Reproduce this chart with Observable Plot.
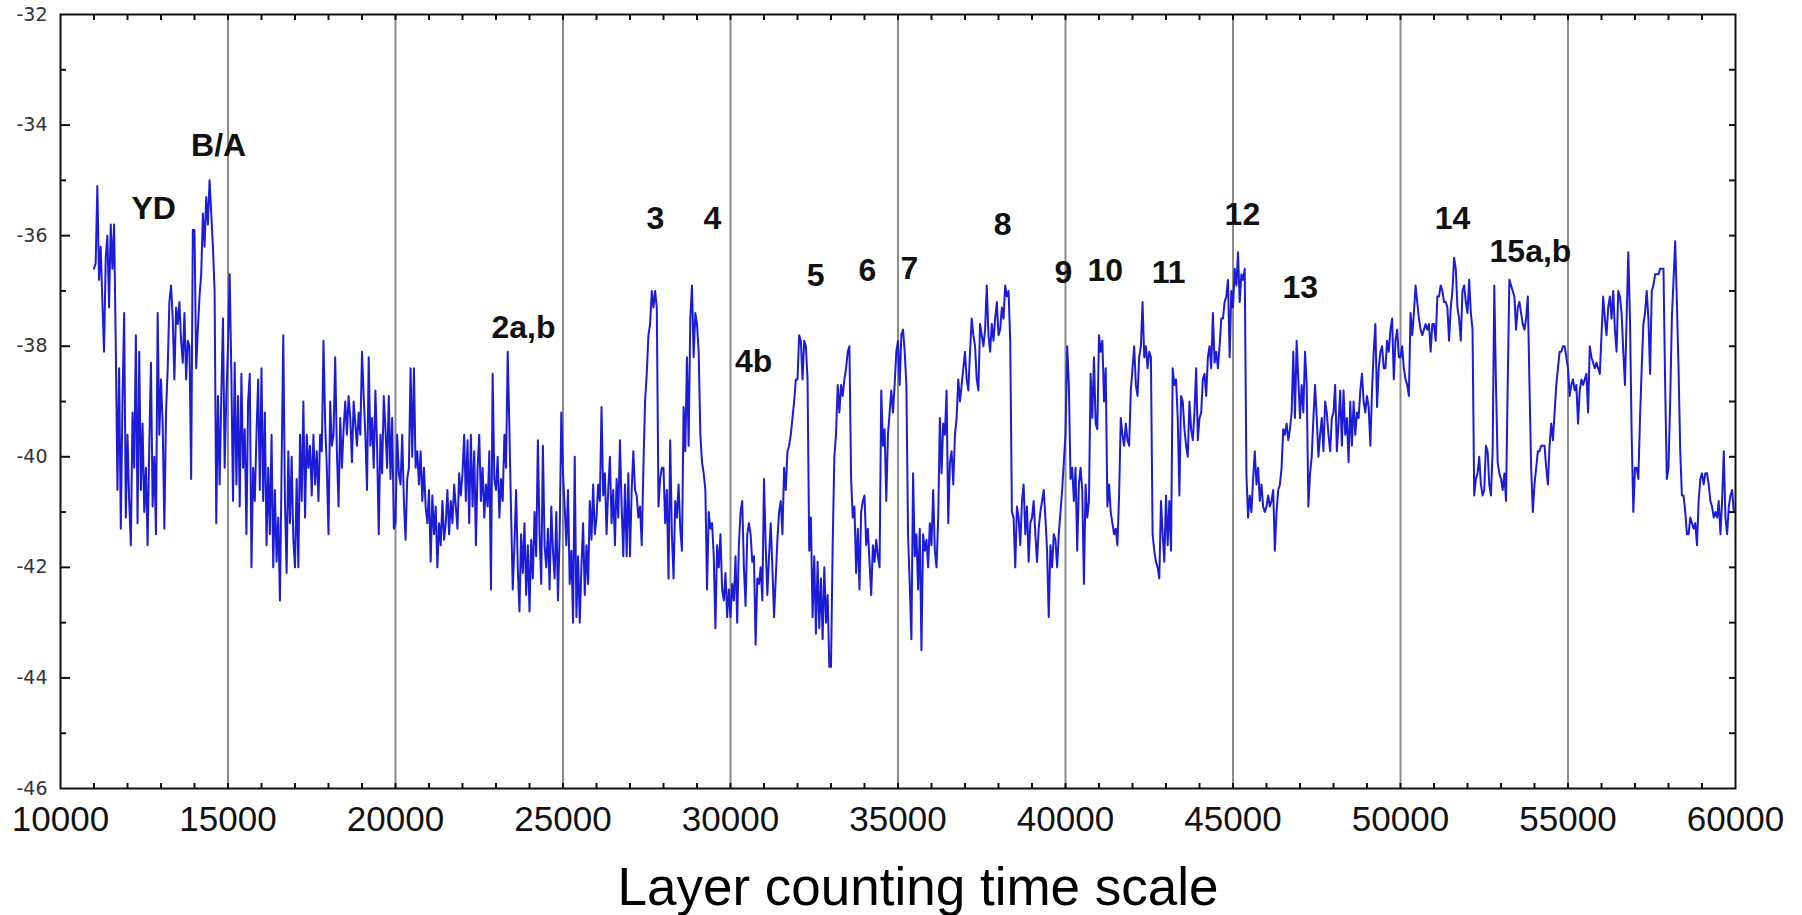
<!DOCTYPE html>
<html>
<head>
<meta charset="utf-8">
<script src="https://cdn.jsdelivr.net/npm/d3@7"></script>
<script src="https://cdn.jsdelivr.net/npm/@observablehq/plot@0.6"></script>
<style>
  html, body { margin: 0; padding: 0; background: #fff; }
  #chart svg { display: block; }
</style>
</head>
<body>
<div id="chart"></div>
<script>
// δ18O record, one row per 1000 years (~50-yr steps)
const ka11_14 = [
  [-36.6, -36.5, -35.1, -36.8, -36.2, -37.2, -38.1, -36.4, -36.0, -37.3, -35.8, -36.6, -35.8, -38.0, -40.6, -38.4, -41.3, -39.0, -37.4, -41.1],
  [-39.6, -40.8, -41.6, -39.2, -40.2, -37.8, -41.2, -38.1, -40.6, -39.4, -41.0, -40.2, -41.6, -39.8, -38.3, -40.9, -40.0, -41.4, -37.4, -39.6],
  [-38.6, -39.4, -41.3, -39.2, -38.4, -37.2, -36.9, -37.5, -38.6, -37.3, -37.6, -37.2, -37.9, -38.3, -37.4, -38.6, -37.9, -38.0, -40.4, -35.9],
  [-35.9, -38.4, -37.7, -37.1, -36.7, -35.6, -36.2, -35.3, -35.8, -35.0, -35.6, -36.2, -37.0, -41.2, -38.9, -40.5, -38.9, -37.5, -40.2, -38.9]
];
const ka15_19 = [
  [-38.0, -36.7, -38.5, -40.8, -38.3, -40.5, -38.9, -40.9, -38.5, -40.2, -39.5, -41.4, -39.0, -38.5, -42.0, -40.2, -40.8, -39.6, -38.6, -40.6],
  [-38.4, -40.8, -39.2, -41.6, -40.2, -41.4, -39.6, -42.0, -40.6, -41.9, -41.1, -42.6, -40.2, -37.8, -40.8, -42.1, -39.9, -41.2, -40.0, -41.5],
  [-42.0, -40.4, -42.0, -39.6, -40.8, -39.0, -41.1, -39.6, -40.2, -39.8, -40.7, -39.6, -40.5, -39.9, -40.8, -39.6, -39.9, -37.9, -39.4, -40.2],
  [-41.4, -39.0, -39.8, -39.6, -38.2, -39.9, -40.9, -39.3, -40.2, -39.5, -39.0, -39.6, -38.9, -39.3, -40.1, -39.0, -39.4, -39.8, -39.2, -39.6],
  [-38.1, -38.9, -39.6, -40.6, -38.2, -39.8, -39.3, -40.2, -38.8, -39.8, -41.4, -39.6, -40.3, -38.9, -39.5, -40.2, -38.9, -40.4, -39.3, -41.3]
];
const ka20_24 = [
  [-41.2, -39.6, -40.3, -40.5, -39.6, -40.8, -41.5, -40.4, -40.2, -38.4, -40.0, -38.4, -40.2, -39.9, -40.5, -39.9, -40.8, -40.2, -40.9, -41.2],
  [-40.6, -41.9, -40.7, -41.4, -40.9, -42.0, -41.2, -41.6, -40.8, -41.5, -41.2, -40.6, -41.4, -40.8, -41.2, -40.5, -40.9, -41.3, -40.3, -40.7],
  [-40.3, -39.6, -40.8, -39.7, -41.2, -39.6, -40.9, -39.9, -41.6, -40.2, -39.6, -40.8, -40.2, -41.1, -40.5, -40.9, -39.9, -42.4, -38.5, -40.4],
  [-40.6, -40.0, -41.1, -40.4, -40.8, -39.6, -40.2, -38.1, -39.5, -41.0, -42.4, -41.6, -40.6, -42.0, -42.8, -41.4, -42.1, -41.2, -42.5, -41.6],
  [-42.8, -41.5, -42.2, -41.0, -41.8, -39.7, -41.4, -42.3, -39.8, -41.6, -42.0, -41.3, -42.4, -40.9, -41.7, -42.2, -41.0, -42.6, -41.4, -39.2]
];
const ka25_29 = [
  [-40.3, -40.9, -41.6, -40.6, -42.3, -41.7, -43.0, -40.0, -42.9, -41.8, -43.0, -42.0, -41.2, -42.5, -41.6, -42.3, -40.8, -41.5, -40.5, -41.4],
  [-41.1, -40.5, -40.8, -39.1, -40.7, -40.3, -41.4, -40.6, -40.0, -41.2, -40.6, -41.6, -40.4, -41.1, -39.7, -40.9, -41.8, -40.5, -41.8, -40.3],
  [-41.8, -40.6, -39.9, -40.6, -40.7, -41.1, -40.9, -41.6, -40.2, -39.0, -38.5, -37.8, -37.6, -37.0, -37.3, -37.0, -37.3, -40.9, -40.4, -40.2],
  [-40.2, -41.2, -40.6, -42.2, -39.7, -41.4, -42.2, -40.8, -41.1, -40.5, -41.3, -41.7, -39.1, -39.9, -38.2, -39.8, -37.5, -36.9, -38.2, -37.4],
  [-37.6, -38.1, -39.6, -40.1, -40.3, -40.6, -42.4, -41.0, -41.3, -41.2, -41.8, -43.1, -41.6, -42.0, -41.4, -42.4, -42.6, -42.1, -42.9, -42.4]
];
const ka30_34 = [
  [-42.9, -42.3, -42.6, -41.8, -43.0, -41.6, -41.0, -40.8, -42.0, -42.7, -41.4, -41.2, -41.4, -41.9, -41.8, -43.4, -42.2, -42.3, -42.0, -42.6],
  [-40.4, -41.6, -42.5, -41.8, -41.2, -42.0, -42.9, -42.2, -41.5, -41.0, -40.8, -41.4, -40.2, -40.6, -39.9, -39.8, -39.6, -39.3, -39.0, -38.6],
  [-38.6, -37.8, -37.9, -38.6, -37.9, -38.0, -38.6, -41.7, -41.1, -42.9, -41.8, -43.2, -41.9, -43.1, -42.2, -43.3, -42.0, -43.0, -42.5, -43.8],
  [-43.8, -41.6, -40.0, -39.6, -38.7, -39.2, -38.7, -38.9, -38.6, -38.4, -38.1, -38.0, -40.4, -41.1, -40.9, -42.1, -41.3, -42.4, -41.0, -40.8],
  [-40.7, -41.6, -41.3, -41.9, -42.5, -41.6, -41.9, -41.5, -41.8, -42.0, -38.8, -39.8, -39.5, -40.8, -39.6, -39.2, -38.8, -39.2, -38.7, -38.1]
];
const ka35_39 = [
  [-37.9, -38.7, -37.8, -37.7, -38.1, -38.7, -41.4, -42.3, -43.3, -40.3, -41.8, -41.4, -42.4, -41.3, -43.5, -41.4, -41.7, -41.5, -42.0, -41.2],
  [-41.6, -40.6, -41.7, -42.0, -41.1, -39.3, -40.3, -39.4, -39.6, -38.8, -41.2, -40.1, -39.9, -40.5, -39.6, -39.3, -38.6, -39.0, -38.7, -38.4],
  [-38.1, -38.6, -38.8, -38.1, -37.5, -37.8, -38.0, -38.6, -38.8, -37.6, -37.8, -38.0, -37.7, -36.9, -37.8, -38.1, -37.6, -37.9, -37.5, -37.2],
  [-37.8, -37.7, -37.3, -37.5, -36.9, -37.1, -37.0, -37.9, -41.0, -41.1, -42.0, -40.9, -41.1, -41.6, -40.8, -40.5, -41.4, -40.9, -41.9, -41.2],
  [-41.1, -40.8, -41.4, -41.9, -41.3, -41.0, -40.8, -40.6, -41.1, -41.7, -42.9, -41.6, -42.0, -41.4, -41.5, -42.0, -41.4, -41.0, -40.6, -40.1]
];
const ka40_44 = [
  [-39.6, -38.0, -38.7, -40.4, -40.2, -40.8, -40.2, -41.7, -40.5, -40.2, -40.6, -42.3, -40.5, -41.1, -40.8, -38.5, -39.3, -38.2, -39.4, -39.5],
  [-37.8, -38.1, -37.9, -39.0, -38.4, -40.9, -40.5, -41.0, -41.2, -41.4, -41.3, -41.6, -40.7, -39.3, -39.6, -39.8, -39.4, -39.7, -39.8, -38.8],
  [-38.4, -38.0, -38.7, -38.9, -38.2, -38.0, -37.2, -38.2, -38.0, -38.4, -38.1, -38.2, -41.4, -41.7, -41.9, -42.0, -42.2, -40.8, -41.4, -41.9],
  [-40.7, -41.6, -40.8, -41.7, -38.4, -38.7, -38.6, -39.3, -40.7, -38.9, -39.0, -39.5, -39.8, -40.0, -39.0, -39.5, -39.7, -39.2, -38.4, -39.7],
  [-39.3, -39.2, -38.6, -38.5, -38.9, -38.2, -38.0, -38.4, -37.4, -38.3, -38.1, -38.4, -38.0, -37.5, -37.5, -37.2, -37.1, -36.8, -38.2, -37.0]
];
const ka45_49 = [
  [-37.3, -36.6, -36.9, -36.3, -37.2, -36.7, -36.8, -36.6, -40.3, -41.1, -40.7, -41.0, -40.4, -39.9, -40.5, -40.2, -40.8, -40.5, -40.9, -41.0],
  [-40.9, -40.7, -40.9, -40.8, -40.6, -41.7, -41.0, -40.6, -40.5, -40.2, -39.5, -39.6, -39.4, -39.7, -39.5, -39.2, -38.1, -39.3, -37.9, -38.6],
  [-39.3, -38.7, -39.2, -38.1, -38.7, -40.9, -40.3, -40.0, -39.3, -38.7, -39.3, -40.0, -39.6, -39.3, -39.9, -39.0, -39.2, -39.6, -39.9, -39.3],
  [-39.2, -38.7, -39.9, -39.4, -38.8, -39.8, -38.8, -39.6, -39.3, -40.1, -39.0, -39.8, -39.0, -39.6, -39.2, -39.3, -38.8, -38.5, -39.0, -39.2],
  [-38.9, -39.1, -39.8, -38.8, -38.1, -37.6, -39.1, -38.4, -38.1, -38.0, -38.4, -38.4, -37.9, -38.1, -37.7, -37.5, -38.6, -37.9, -37.7, -38.2]
];
const ka50_54 = [
  [-38.2, -38.0, -38.4, -38.6, -38.7, -38.9, -37.4, -37.8, -37.4, -36.9, -37.2, -37.5, -37.7, -37.8, -37.7, -37.6, -37.7, -37.6, -38.1, -37.6],
  [-37.6, -37.9, -37.1, -37.1, -36.9, -37.0, -37.2, -37.2, -37.3, -37.9, -37.3, -37.0, -36.4, -36.6, -37.3, -37.5, -37.9, -37.0, -36.9, -37.2],
  [-37.4, -36.8, -37.4, -37.7, -40.7, -40.4, -40.3, -40.0, -40.5, -40.7, -40.6, -39.8, -39.9, -40.5, -40.7, -39.9, -36.9, -38.7, -40.1, -40.3],
  [-40.4, -40.6, -40.3, -40.8, -38.7, -36.8, -36.9, -37.0, -37.1, -37.7, -37.3, -37.2, -37.4, -37.6, -37.7, -37.5, -37.1, -38.7, -40.2, -41.0],
  [-40.5, -40.2, -39.9, -39.9, -39.8, -39.8, -39.8, -40.2, -40.5, -39.8, -39.4, -39.7, -39.2, -38.7, -38.4, -38.1, -38.1, -38.0, -38.0, -38.2]
];
const ka55_59 = [
  [-38.4, -38.9, -38.7, -38.6, -38.8, -38.7, -39.4, -38.8, -38.6, -38.7, -38.6, -38.5, -39.2, -38.0, -38.2, -38.3, -38.4, -38.3, -38.4, -38.5],
  [-37.8, -37.1, -37.5, -37.8, -37.3, -37.1, -37.5, -37.0, -37.7, -38.1, -37.0, -37.1, -37.4, -38.1, -38.7, -37.5, -36.3, -37.5, -39.6, -41.0],
  [-40.2, -40.2, -40.4, -39.3, -38.4, -37.6, -37.4, -37.0, -37.5, -38.5, -37.0, -36.9, -36.7, -36.7, -36.7, -36.6, -36.6, -36.6, -38.7, -40.4],
  [-40.2, -39.0, -37.5, -36.8, -36.1, -37.2, -38.4, -39.9, -40.7, -40.7, -41.0, -41.4, -41.4, -41.1, -41.2, -41.3, -41.2, -41.6, -40.8, -40.4],
  [-40.3, -40.5, -40.3, -40.3, -40.5, -40.8, -40.9, -41.1, -41.0, -41.1, -40.8, -41.4, -40.8, -39.9, -41.1, -41.4, -40.9, -40.7, -40.6, -41.0]
];
const blocks = [[11, ka11_14], [15, ka15_19], [20, ka20_24], [25, ka25_29], [30, ka30_34],
                [35, ka35_39], [40, ka40_44], [45, ka45_49], [50, ka50_54], [55, ka55_59]];

// Event labels
const eventLabels = ["YD", "B/A", "2a,b", "3", "4", "4b", "5", "6", "7", "8", "9", "10", "11", "12", "13", "14", "15a,b"];
const eventX = [12780, 14720, 23820, 27760, 29460, 30690, 32540, 34090, 35340, 38120, 39940, 41190, 43080, 45280, 47010, 51550, 53880];
const eventY = [-35.51, -34.37, -37.66, -35.69, -35.69, -38.29, -36.72, -36.63, -36.59, -35.80, -36.68, -36.63, -36.68, -35.63, -36.94, -35.69, -36.30];

// Axis ticks
const xMajor = [10000, 15000, 20000, 25000, 30000, 35000, 40000, 45000, 50000, 55000, 60000];
const xGrid = [15000, 20000, 25000, 30000, 35000, 40000, 45000, 50000, 55000];
const xMinor = d3.range(11000, 60000, 1000);
const yMajor = [-46, -44, -42, -40, -38, -36, -34, -32];
const yMinor = [-45, -43, -41, -39, -37, -35, -33];
const yAll = d3.range(-45, -32, 1);
const xTitle = "Layer counting time scale";

const series = blocks.flatMap(([k0, rows]) =>
  rows.flatMap((row, i) => row.map((v, j) => ({age: (k0 + i) * 1000 + j * 1000 / row.length, d18O: v}))));

const chart = Plot.plot({
  width: 1802,
  height: 915,
  marginLeft: 60,
  marginRight: 67,
  marginTop: 14,
  marginBottom: 127,
  style: {background: "#fff", fontFamily: "'Liberation Sans', Arial, sans-serif", color: "#000"},
  x: {domain: [10000, 60000], label: null},
  y: {domain: [-46, -32], label: null},
  marks: [
    Plot.ruleX(xGrid, {stroke: "#8c8c8c", strokeWidth: 2}),
    Plot.line(series, {x: "age", y: "d18O", stroke: "#1c1cd8", strokeWidth: 2}),
    Plot.frame({stroke: "#111", strokeWidth: 2}),
    // inward ticks
    Plot.axisX({anchor: "bottom", ticks: xMinor, tickSize: -5, fill: "none", stroke: "#111", strokeWidth: 2, label: null}),
    Plot.axisX({anchor: "top", ticks: xMinor, tickSize: -5, fill: "none", stroke: "#111", strokeWidth: 2, label: null}),
    Plot.axisY({anchor: "left", ticks: yMajor.slice(1, -1), tickSize: -10, fill: "none", stroke: "#111", strokeWidth: 2, label: null}),
    Plot.axisY({anchor: "left", ticks: yMinor, tickSize: -6, fill: "none", stroke: "#111", strokeWidth: 2, label: null}),
    Plot.axisY({anchor: "right", ticks: yAll, tickSize: -7, fill: "none", stroke: "#111", strokeWidth: 2, label: null}),
    // tick labels
    Plot.axisX({anchor: "bottom", ticks: xMajor, tickSize: 0, tickPadding: 18, fontSize: 35, fill: "#111",
                tickFormat: d => String(d), label: null}),
    Plot.axisY({anchor: "left", ticks: yMajor, tickSize: 0, tickPadding: 13, fontSize: 19, fill: "#333",
                fontFamily: "'DejaVu Sans', sans-serif", tickFormat: d => "-" + Math.abs(d), label: null}),
    // event labels
    Plot.text(eventLabels, {x: eventX, y: eventY, text: d => d, fontSize: 32, fontWeight: "bold", fill: "#111"}),
    // axis title
    Plot.text([xTitle], {frameAnchor: "bottom", dy: 116, dx: 20, fontSize: 53, fill: "#000"})
  ]
});
document.getElementById("chart").appendChild(chart);
</script>
</body>
</html>
